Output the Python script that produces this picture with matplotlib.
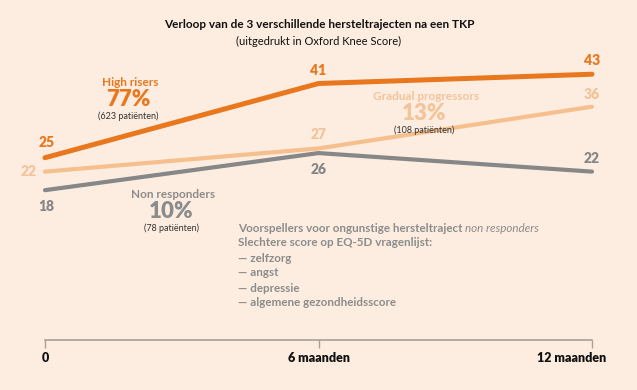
import matplotlib
matplotlib.use('Agg')

from matplotlib import pyplot
import matplotlib.transforms as mtransforms

# data ==========================================================================
months = [0, 6, 12]
tick_labels = ['0', '6 maanden', '12 maanden']

high_risers = [25, 41, 43]
gradual_progressors = [22, 27, 36]
non_responders = [18, 26, 22]

groups = ['High risers', 'Gradual progressors', 'Non responders']
group_pct = ['77%', '13%', '10%']
group_n = ['(623 patiënten)', '(108 patiënten)', '(78 patiënten)']

predictor_lines = ['— zelfzorg', '— angst', '— depressie', '— algemene gezondheidsscore']

BG = '#fdede0'
ORANGE = '#e8771e'
LIGHT = '#f5c08e'
LIGHT_TXT = '#f3c39a'
GREY = '#878787'
GREY_TXT = '#8c8c8c'

W, H = 637, 390
pyplot.rcParams['font.family'] = ['Lato', 'DejaVu Sans']

fig = pyplot.figure(figsize=(W / 100, H / 100), dpi=100)
fig.patch.set_facecolor(BG)

# axes placed so that 0 -> x=45px, 12 -> x=592px, baseline at y=340px
ax = fig.add_axes([45 / W, 50 / H, 547 / W, 340 / H])
ax.set_facecolor(BG)
ax.set_xlim(0, 12)
ax.set_ylim(-14.3, 59.0)

def fx(px):
    return px / W

def fy(py):
    return 1 - py / H

ax.plot(months, non_responders, '-', color=GREY, linewidth=3.0, solid_capstyle='round', clip_on=False, zorder=2)
ax.plot(months, gradual_progressors, '-', color=LIGHT, linewidth=3.0, solid_capstyle='round', clip_on=False, zorder=3)
ax.plot(months, high_risers, '-', color=ORANGE, linewidth=3.6, solid_capstyle='round', clip_on=False, zorder=4)

# value labels
def val_labels(vals, color, offsets):
    for x, v, (dx, dy, ha) in zip(months, vals, offsets):
        ax.annotate(str(v), (x, v), xytext=(dx, dy), textcoords='offset points',
                    ha=ha, va='center', fontsize=10, fontweight='heavy', color=color)

val_labels(high_risers, ORANGE, [(1, 11, 'center'), (0, 9.5, 'center'), (0, 10, 'center')])
val_labels(gradual_progressors, LIGHT_TXT, [(-6, 0, 'right'), (0, 10, 'center'), (0, 9, 'center')])
val_labels(non_responders, GREY, [(1, -11.5, 'center'), (0, -11.5, 'center'), (0, 9.5, 'center')])

# group labels
group_pos = [(130, 83, ORANGE), (426, 97, LIGHT_TXT), (173, 195, GREY_TXT)]
for name, pct, n, (px, py, c) in zip(groups, group_pct, group_n, group_pos):
    fig.text(fx(px), fy(py), name, ha='center', va='center', fontsize=8.5, fontweight='bold', color=c)
    fig.text(fx(px - 2), fy(py + 17), pct, ha='center', va='center', fontsize=16, fontweight='heavy', color=c)
    fig.text(fx(px - 2), fy(py + 33), n, ha='center', va='center', fontsize=6.5, color='#333333')

# title
fig.text(fx(319), fy(25), 'Verloop van de 3 verschillende hersteltrajecten na een TKP',
         ha='center', va='center', fontsize=8.5, fontweight='bold', color='#111111')
fig.text(fx(319), fy(41), '(uitgedrukt in Oxford Knee Score)',
         ha='center', va='center', fontsize=8, color='#111111')

# predictors block
t = fig.text(fx(238), fy(228), 'Voorspellers voor ongunstige hersteltraject ',
             ha='left', va='center', fontsize=8.4, fontweight='bold', color=GREY_TXT)
ax.annotate('non responders', xy=(1, 0.5), xycoords=t, ha='left', va='center',
            fontsize=8.4, style='italic', color=GREY_TXT)
fig.text(fx(238), fy(243), 'Slechtere score op EQ-5D vragenlijst:',
         ha='left', va='center', fontsize=8.4, fontweight='bold', color=GREY_TXT)
for i, line in enumerate(predictor_lines):
    fig.text(fx(238), fy(258 + 15 * i), line, ha='left', va='center',
             fontsize=8.4, fontweight='bold', color=GREY_TXT)

# x axis
for s in ['top', 'right', 'left']:
    ax.spines[s].set_visible(False)
ax.spines['bottom'].set_color('#a8a099')
ax.spines['bottom'].set_linewidth(1.2)
ax.set_yticks([])
ax.set_xticks(months)
ax.set_xticklabels(tick_labels, fontsize=9, fontweight='heavy', color='#111111')
ax.tick_params(axis='x', direction='out', length=6, width=1.0, color='#a8a099', pad=3)
last = ax.get_xticklabels()[-1]
last.set_transform(last.get_transform() + mtransforms.ScaledTranslation(-20 / 100, 0, fig.dpi_scale_trans))

pyplot.savefig('out.png', dpi=100, facecolor=BG)
pyplot.close()
